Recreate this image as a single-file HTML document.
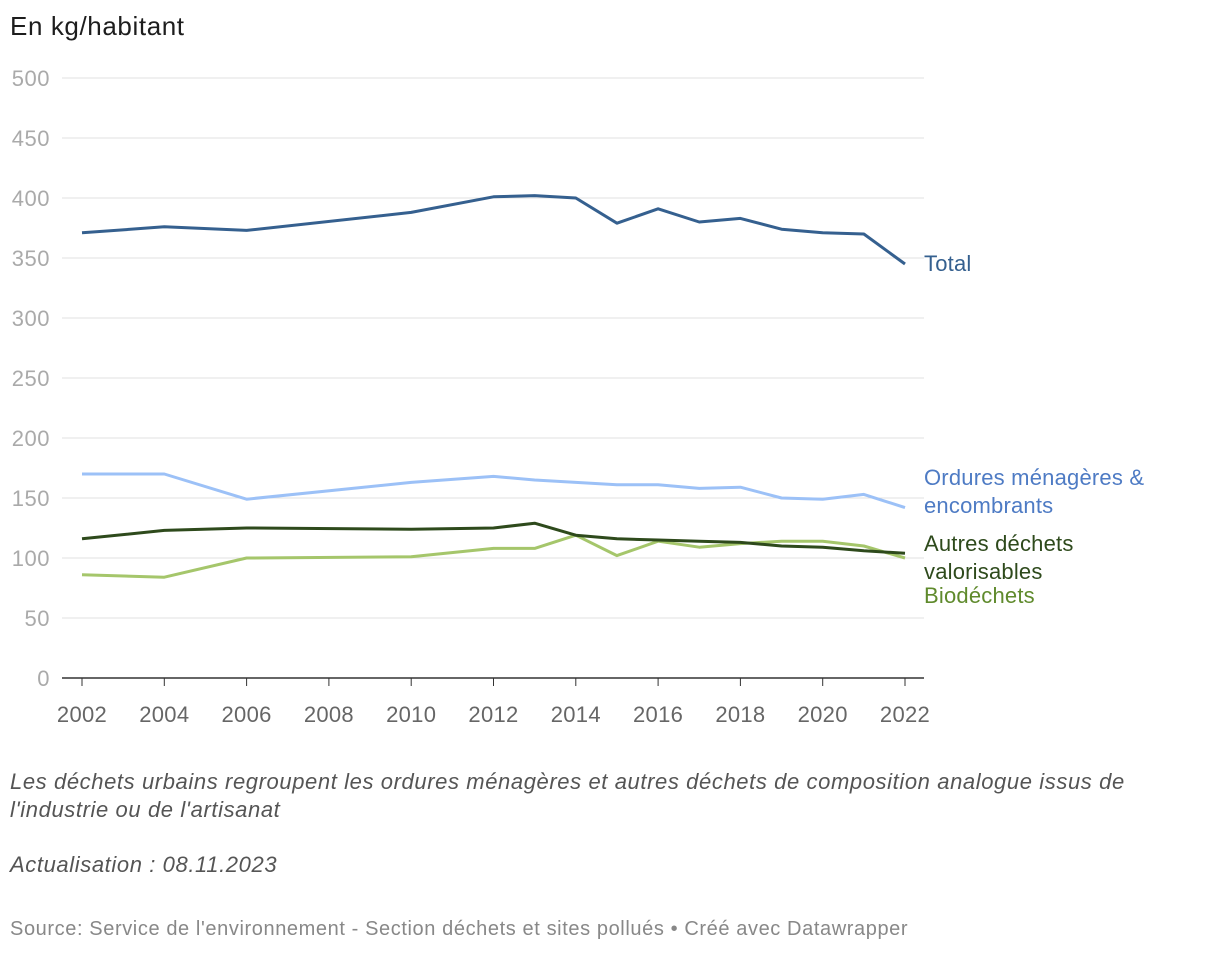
<!DOCTYPE html>
<html><head><meta charset="utf-8"><style>
body{margin:0;background:#fff;width:1220px;height:954px;overflow:hidden;font-family:"Liberation Sans",sans-serif}
#title{position:absolute;left:10px;top:11px;font-size:26px;letter-spacing:0.6px;color:#1d1d1d}
.note{position:absolute;left:10px;font-size:22px;letter-spacing:0.6px;font-style:italic;color:#555;line-height:28px}
#src{position:absolute;left:10px;top:918px;font-size:20px;letter-spacing:0.6px;color:#888}
</style></head><body>
<div id="title">En kg/habitant</div>
<svg id="chart" width="1220" height="740" style="position:absolute;left:0;top:0"></svg>
<div class="note" style="top:768px;width:1140px">Les déchets urbains regroupent les ordures ménagères et autres déchets de composition analogue issus de l'industrie ou de l'artisanat</div>
<div class="note" style="top:851px">Actualisation : 08.11.2023</div>
<div id="src">Source: Service de l'environnement - Section déchets et sites pollués • Créé avec Datawrapper</div>
<script>
const years=[2002,2004,2006,2010,2012,2013,2014,2015,2016,2017,2018,2019,2020,2021,2022];
const total=[371,376,373,388,401,402,400,379,391,380,383,374,371,370,345];
const ordures=[170,170,149,163,168,165,163,161,161,158,159,150,149,153,142];
const autres=[116,123,125,124,125,129,119,116,115,114,113,110,109,106,104];
const bio=[86,84,100,101,108,108,119,102,114,109,112,114,114,110,100];
const yTicks=[0,50,100,150,200,250,300,350,400,450,500];
const xTicks=[2002,2004,2006,2008,2010,2012,2014,2016,2018,2020,2022];
const NS="http://www.w3.org/2000/svg";
const svg=document.getElementById('chart');
const x=v=>82+(v-2002)*(905-82)/20;
const y=v=>678-v*1.2;
function el(t,a){const e=document.createElementNS(NS,t);for(const k in a)e.setAttribute(k,a[k]);svg.appendChild(e);return e;}
yTicks.forEach(v=>{
  const l=el('line',{x1:62,x2:924,y1:y(v),y2:y(v),stroke:v===0?'#333':'#e0e0e0','stroke-width':v===0?1.5:1});
  
  
  const t=el('text',{x:50,y:y(v)+8,'text-anchor':'end','font-size':22,'letter-spacing':0.5,fill:'#aaa','font-family':'Liberation Sans'});
  t.textContent=v;
  
  
});
xTicks.forEach(v=>{
  const l=el('line',{x1:x(v),x2:x(v),y1:678,y2:686,stroke:'#333','stroke-width':1});
  
  
  const t=el('text',{x:x(v),y:722,'text-anchor':'middle','font-size':22,'letter-spacing':0.3,fill:'#666','font-family':'Liberation Sans'});
  t.textContent=v;
  
  
});
const series=[[bio,'#a5c66b','biodechets-line'],[autres,'#2e4a1c','autres-dechets-line'],[ordures,'#9cc1f7','ordures-line'],[total,'#35608f','total-line']];
series.forEach(([d,c,n])=>{
  const p=el('polyline',{points:d.map((v,i)=>x(years[i])+','+y(v)).join(' '),fill:'none',stroke:c,'stroke-width':3,'stroke-linejoin':'round'});
  
  
});
const labels=[['Total',271,'#35608f','total-label'],['Ordures ménagères &',485,'#4e7bc4','ordures-label'],['encombrants',513,'#4e7bc4','ordures-label-2'],['Autres déchets',551,'#2e4a1c','autres-label'],['valorisables',579,'#2e4a1c','autres-label-2'],['Biodéchets',603,'#5f8a2c','bio-label']];
labels.forEach(([s,yy,c,n])=>{
  const t=el('text',{x:924,y:yy,'font-size':22,'letter-spacing':0.2,fill:c,'font-family':'Liberation Sans'});
  t.textContent=s;
  
  
});
</script>
</body></html>
